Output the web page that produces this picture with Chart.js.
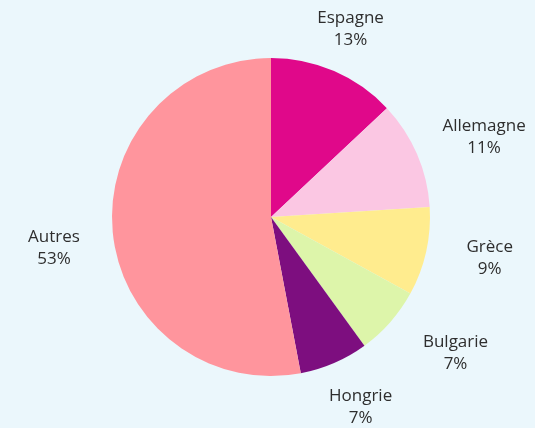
<!DOCTYPE html>
<html><head><meta charset="utf-8">
<script src="https://cdn.jsdelivr.net/npm/chart.js@4"></script>
<style>html,body{margin:0;padding:0;background:#EBF7FC;}canvas{display:block;}</style>
</head><body>
<canvas id="c" width="535" height="428"></canvas>
<script>
const categories = ["Espagne", "Allemagne", "Grèce", "Bulgarie", "Hongrie", "Autres"];
const values = [13, 11, 9, 7, 7, 53];
const percentLabels = ["13%", "11%", "9%", "7%", "7%", "53%"];
const colors = ["#E0088A", "#FBC7E3", "#FFEC8E", "#DDF5AA", "#7D0E7F", "#FF959D"];

// label placement tweaks (layout only)
const labelRadius = 218;
const labelNudge = [[-7, 11], [13, 6], [6, -7], [21, -9], [3, -11], [0, 10]];

const outsideLabels = {
  id: 'outsideLabels',
  afterDatasetsDraw(chart) {
    const ctx = chart.ctx;
    const meta = chart.getDatasetMeta(0);
    ctx.save();
    ctx.font = '17px "Open Sans", sans-serif';
    ctx.fillStyle = '#2E2E2E';
    ctx.textAlign = 'center';
    ctx.textBaseline = 'middle';
    meta.data.forEach((arc, i) => {
      const p = arc.getProps(['x', 'y', 'startAngle', 'endAngle'], true);
      const mid = (p.startAngle + p.endAngle) / 2;
      const x = p.x + Math.cos(mid) * labelRadius + labelNudge[i][0];
      const y = p.y + Math.sin(mid) * labelRadius + labelNudge[i][1];
      ctx.fillText(categories[i], x, y - 10);
      ctx.fillText(percentLabels[i], x, y + 12);
    });
    ctx.restore();
  }
};

new Chart(document.getElementById('c'), {
  type: 'pie',
  data: {
    labels: categories,
    datasets: [{ data: values, backgroundColor: colors, borderWidth: 0, hoverOffset: 0 }]
  },
  options: {
    responsive: false,
    animation: false,
    layout: { padding: { left: 112, right: 105, top: 58, bottom: 52 } },
    plugins: { legend: { display: false }, tooltip: { enabled: false } }
  },
  plugins: [outsideLabels]
});
</script>
</body></html>
